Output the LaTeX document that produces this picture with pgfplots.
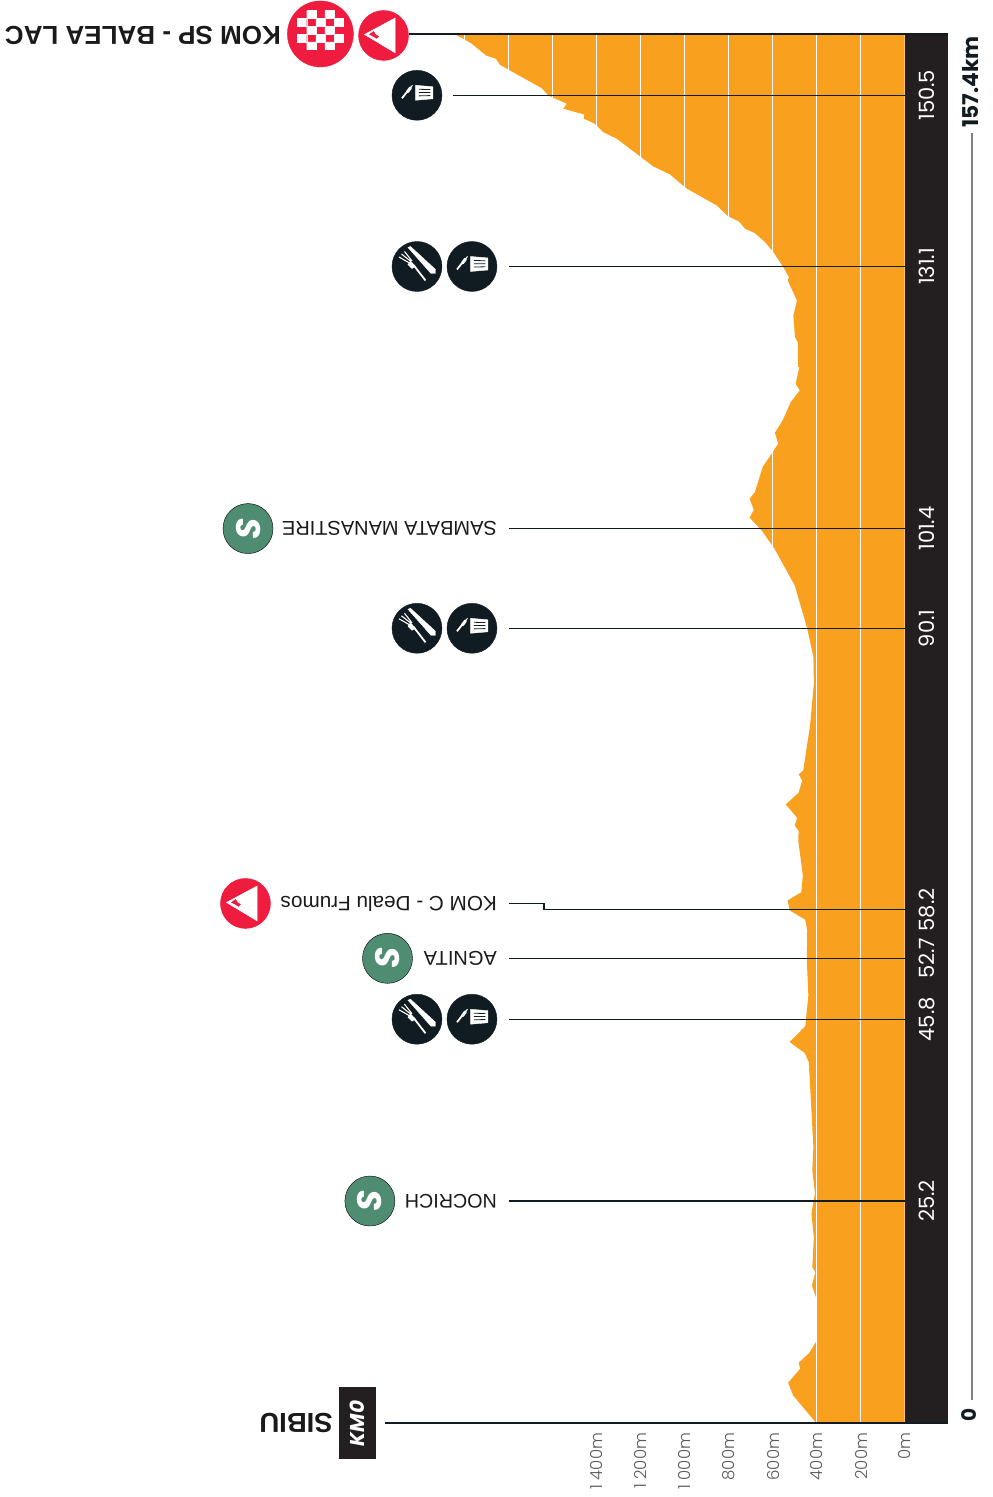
\documentclass[border=0pt]{standalone}
\usepackage{fontspec}
\usepackage{pgfplots}
\pgfplotsset{compat=1.18}
\usepackage{pgfplotstable}
\setmainfont{Liberation Sans}
\newfontfamily\pop{Poppins}
\newfontfamily\poplight{Poppins Light}
\newfontfamily\popbold{Poppins Bold}
\newfontfamily\condfont{Liberation Sans}
\newfontfamily\condbold{Liberation Sans Bold}
\definecolor{prof}{HTML}{F9A01E}
\definecolor{band}{HTML}{231F20}
\definecolor{dark}{HTML}{101C21}
\definecolor{kred}{HTML}{EF1C3F}
\definecolor{sgreen}{HTML}{4F8D72}
\definecolor{lab}{HTML}{1A1A1A}
\pgfplotstableread{
km m
0 0
0 400
3.17 506
4.61 529
6.20 474
6.88 481
7.97 433
9.41 398
14.13 400
15.64 421
17.14 405
17.71 419
21.11 412
23.80 423
26.06 407
28.67 419
31.31 414
33.58 419
40.94 435
41.96 453
43.21 522
45.02 451
48.50 437
52.46 444
55.86 442
57.08 451
58.13 522
59.26 531
60.20 469
62.10 462
66.06 483
67.12 481
67.76 499
68.63 488
70.14 540
71.47 481
72.86 465
73.54 481
74.00 460
77.02 442
78.90 430
83.82 412
86.83 414
90.05 442
94.96 499
99.12 591
101.19 649
102.63 704
103.53 685
104.78 704
105.53 680
108.36 645
111.01 574
112.26 589
113.65 554
115.73 517
117.05 476
117.81 495
119.69 478
119.77 485
122.53 485
123.09 498
125.55 505
127.25 489
129.52 531
129.89 525
131.03 551
132.73 596
133.86 634
134.88 680
135.38 725
136.20 752
136.77 801
138.02 854
139.98 993
141.53 1066
142.44 1142
145.58 1308
146.32 1369
147.27 1407
147.84 1457
148.33 1457
148.98 1551
149.54 1535
150.48 1619
151.31 1649
153.51 1808
153.96 1839
154.64 1857
155.01 1902
156.34 1967
156.91 2005
157.28 2035
157.4 2036
157.4 0
}\profile
\pgfdeclareplotmark{feed}{%
  \fill[dark] (0pt,0pt) circle (25pt);
  \fill[white] (-1.5pt,10pt)--(16pt,8.5pt)--(16pt,-3.5pt)--(-1.5pt,-5pt)--cycle;
  \draw[dark,line width=0.8pt] (2pt,6pt)--(13.5pt,5.7pt) (2pt,2.7pt)--(13.5pt,2.7pt) (2pt,-0.6pt)--(13.5pt,-0.3pt);
  \draw[white,line width=1.8pt] (-15pt,-3pt)--(-9.5pt,4pt);
  \draw[white,line width=3pt,line cap=round] (-9.5pt,3.5pt)--(-6.5pt,7.5pt);
  \draw[white,line width=1pt] (-6.5pt,7.5pt)--(-4.5pt,10pt);
}
\pgfdeclareplotmark{food}{%
  \fill[dark] (0pt,0pt) circle (25pt);
  \fill[white] (-9pt,19pt)--(-6.5pt,20pt)--(18.5pt,-3pt)--(18.5pt,-7pt)--(14pt,-7pt)--(3pt,5.5pt)--cycle;
  \draw[white,line width=1.8pt] (-3.5pt,1.5pt)--(8.5pt,-14pt);
  \fill[white] (-6.5pt,5.5pt)--(-1.5pt,0pt)--(-5pt,-2pt)--(-9pt,2pt)--cycle;
  \draw[white,line width=1.1pt] (-7.5pt,3.5pt)--(-18pt,9.5pt) (-6pt,5pt)--(-15.5pt,12.5pt) (-5pt,5.5pt)--(-12.5pt,15pt);
}
\pgfdeclareplotmark{kom}{%
  \fill[kred] (0pt,0pt) circle (25pt);
  \fill[white] (-19pt,1pt)--(11.7pt,17.5pt)--(11.7pt,-17.5pt)--cycle;
  \fill[kred] (-14pt,1pt)--(-10pt,4pt)--(-8pt,1pt)--(-5pt,-1pt)--(-7pt,-3pt)--(-10pt,-1pt)--cycle;
}
\pgfdeclareplotmark{finish}{%
  \fill[kred] (0pt,0pt) circle (33pt);
  \fill[white]
   (-13.65pt,15.5pt) rectangle +(9.1pt,7.8pt)
   (4.55pt,15.5pt) rectangle +(9.1pt,7.8pt)
   (-22.75pt,7.7pt) rectangle +(9.1pt,7.8pt)
   (-4.55pt,7.7pt) rectangle +(9.1pt,7.8pt)
   (13.65pt,7.7pt) rectangle +(9.1pt,7.8pt)
   (-13.65pt,-0.1pt) rectangle +(9.1pt,7.8pt)
   (4.55pt,-0.1pt) rectangle +(9.1pt,7.8pt)
   (-22.75pt,-7.9pt) rectangle +(9.1pt,7.8pt)
   (-4.55pt,-7.9pt) rectangle +(9.1pt,7.8pt)
   (13.65pt,-7.9pt) rectangle +(9.1pt,7.8pt)
   (-13.65pt,-15.7pt) rectangle +(9.1pt,7.8pt)
   (4.55pt,-15.7pt) rectangle +(9.1pt,7.8pt);
}
\pgfplotsset{base/.style={
  at={(0pt,73.6pt)}, anchor=south west,
  scale only axis, width=948pt, height=1389pt,
  x dir=reverse,
  xmin=-197.7, xmax=4111.4, ymin=0, ymax=157.4,
  clip=false,
  axis line style={draw=none},
  major tick length=0pt,
  xtick pos=lower,
}}
\begin{document}
\begin{tikzpicture}
\path[use as bounding box] (0,0) rectangle (993pt,1497pt);
\clip (0,0) rectangle (993pt,1497pt);
\begin{axis}[base,
  xtick={0,200,400,600,800,1000,1200,1400},
  xticklabels={0m,200m,400m,600m,800m,1 000m,1 200m,1 400m},
  xticklabel style={rotate=90,anchor=east,yshift=-0.5pt,xshift=-6pt,text=black!65,font=\poplight\fontsize{16.5}{16.5}\selectfont},
  ytick=\empty,
]
% band and profile
\addplot[fill=band,draw=none,forget plot] coordinates {(0,0)(-197.7,0)(-197.7,157.4)(0,157.4)} -- cycle;
\addplot[fill=prof,draw=none,forget plot] table[x=m,y=km] {\profile} -- cycle;
% grid
\addplot[white,line width=0.8pt,forget plot] coordinates {(200,0)(200,157.4)};
\addplot[white,line width=0.8pt,forget plot] coordinates {(400,0)(400,157.4)};
\addplot[white,line width=0.8pt,forget plot] coordinates {(600,0)(600,157.4)};
\addplot[white,line width=0.8pt,forget plot] coordinates {(800,0)(800,157.4)};
\addplot[white,line width=0.8pt,forget plot] coordinates {(1000,0)(1000,157.4)};
\addplot[white,line width=0.8pt,forget plot] coordinates {(1200,0)(1200,157.4)};
\addplot[white,line width=0.8pt,forget plot] coordinates {(1400,0)(1400,157.4)};
\addplot[white,line width=0.8pt,forget plot] coordinates {(1600,0)(1600,157.4)};
\addplot[white,line width=0.8pt,forget plot] coordinates {(1800,0)(1800,157.4)};
\addplot[white,line width=0.8pt,forget plot] coordinates {(2000,0)(2000,157.4)};
% leaders
\addplot[dark,line width=1.2pt,forget plot] coordinates {(0,25.2)(1798,25.2)};
\addplot[dark,line width=1.2pt,forget plot] coordinates {(0,45.8)(1798,45.8)};
\addplot[dark,line width=1.2pt,forget plot] coordinates {(0,52.7)(1798,52.7)};
\addplot[dark,line width=1.2pt,forget plot] coordinates {(0,58.2)(1639,58.2)(1639,58.92)(1798,58.92)};
\addplot[dark,line width=1.2pt,forget plot] coordinates {(0,90.1)(1798,90.1)};
\addplot[dark,line width=1.2pt,forget plot] coordinates {(0,101.4)(1798,101.4)};
\addplot[dark,line width=1.2pt,forget plot] coordinates {(0,131.1)(1798,131.1)};
\addplot[dark,line width=1.2pt,forget plot] coordinates {(0,150.5)(2052,150.5)};
\addplot[dark,line width=2pt,forget plot] coordinates {(-197.7,0)(2361,0)};
\addplot[dark,line width=2pt,forget plot] coordinates {(-197.7,157.4)(2252,157.4)};
% distance scale
\addplot[black!50,line width=1.1pt,forget plot] coordinates {(-307,2.6)(-307,146.2)};
% icons
\addplot[only marks,mark=feed,forget plot] coordinates {(1966,45.8)(1966,90.1)(1966,131.1)(2216,150.5)};
\addplot[only marks,mark=food,forget plot] coordinates {(2216,45.8)(2216,90.1)(2216,131.1)};
\addplot[only marks,mark=*,mark size=25pt,mark options={fill=sgreen,draw=none},forget plot] coordinates {(2430,25.2)(2350,52.7)(2984,101.4)};
\addplot[only marks,mark=kom,forget plot] coordinates {(2995.5,58.92)(2368,157.28)};
\addplot[only marks,mark=finish,forget plot] coordinates {(2655,157.45)};
\end{axis}
\begin{axis}[base,
  xtick=\empty,
  ytick pos=right,
  ytick={25.2,45.8,52.7,58.2,90.1,101.4,131.1,150.5},
  yticklabels={25.2,45.8,52.7,58.2,90.1,101.4,131.1,150.5},
  yticklabel style={rotate=90,anchor=center,yshift=21pt,text=white,font=\pop\fontsize{21}{21}\selectfont},
]
% S letters
\node[rotate=90,text=white,font=\popbold\itshape\fontsize{34}{34}\selectfont] at (axis cs:2430,25.2) {S};
\node[rotate=90,text=white,font=\popbold\itshape\fontsize{34}{34}\selectfont] at (axis cs:2350,52.7) {S};
\node[rotate=90,text=white,font=\popbold\itshape\fontsize{34}{34}\selectfont] at (axis cs:2984,101.4) {S};
% place labels
\node[rotate=180,anchor=west,inner sep=0pt,text=lab,font=\condfont\fontsize{19.7}{19.7}\selectfont] at (axis cs:1852,25.2) {NOCRICH};
\node[rotate=180,anchor=west,inner sep=0pt,text=lab,font=\condfont\fontsize{20}{20}\selectfont] at (axis cs:1852,52.7) {AGNITA};
\node[rotate=180,anchor=west,inner sep=0pt,text=lab,font=\condfont\fontsize{20.7}{20.7}\selectfont] at (axis cs:1852,58.92) {KOM C - Dealu Frumos};
\node[rotate=180,anchor=west,inner sep=0pt,text=lab,font=\condfont\fontsize{20}{20}\selectfont] at (axis cs:1852,101.4) {SAMBATA MANASTIRE};
\node[rotate=180,anchor=west,inner sep=0pt,text=lab,font=\condbold\fontsize{26}{26}\selectfont] at (axis cs:2834,157.3) {KOM SP - BALEA LAC};
\node[rotate=180,anchor=west,inner sep=0pt,text=lab,font=\condbold\fontsize{27.5}{27.5}\selectfont] at (axis cs:2598,0) {SIBIU};
\node[rotate=90,fill=band,text=white,minimum width=72pt,minimum height=37pt,inner sep=0pt,font=\popbold\itshape\fontsize{20}{20}\selectfont] at (axis cs:2486,0) {KM0};
% scale labels
\node[rotate=90,text=dark,inner sep=0pt,font=\popbold\fontsize{20}{20}\selectfont] at (axis cs:-292,0.9) {0};
\node[rotate=90,text=dark,inner sep=0pt,font=\popbold\fontsize{21.7}{21.7}\selectfont] at (axis cs:-298,152) {157.4km};
\end{axis}
\end{tikzpicture}
\end{document}
